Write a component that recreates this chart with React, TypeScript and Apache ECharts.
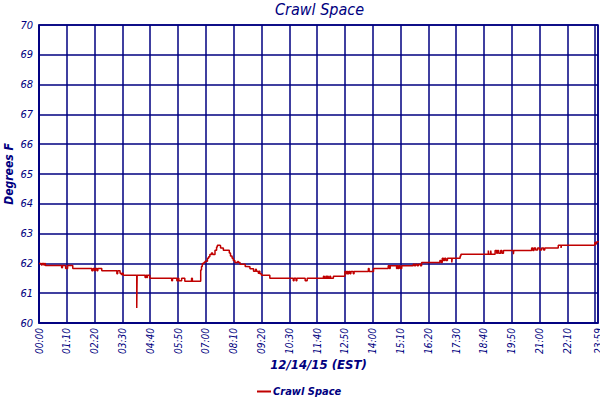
import React, { useRef, useEffect } from 'react';
import * as echarts from 'echarts';

const NAVY = '#000080';
const LINE_RED = '#c00000';
const FONT = "'DejaVu Sans Condensed', 'DejaVu Sans', sans-serif";

// change points of the logged temperature (value holds until the next time)
const times = [
  '00:00', '00:06', '00:08', '00:12', '00:14', '00:16', '00:57', '00:59', '01:07', '01:12',
  '01:25', '02:13', '02:16', '02:20', '02:22', '02:26', '02:28', '02:38', '03:16', '03:18',
  '03:24', '03:27', '03:29', '03:32', '04:06', '04:07', '04:27', '04:29', '04:31', '04:33',
  '04:39', '05:34', '05:36', '05:47', '05:50', '05:52', '05:59', '06:07', '06:24', '06:26',
  '06:47', '06:49', '06:51', '06:55', '06:58', '07:04', '07:07', '07:10', '07:14', '07:17',
  '07:23', '07:27', '07:29', '07:35', '07:37', '07:44', '07:59', '08:02', '08:06', '08:09',
  '08:13', '08:20', '08:22', '08:26', '08:39', '08:43', '08:51', '09:00', '09:05', '09:07',
  '09:12', '09:14', '09:16', '09:20', '09:41', '10:40', '10:42', '10:47', '10:49', '11:10',
  '11:15', '11:56', '11:58', '12:02', '12:04', '12:06', '12:08', '12:12', '12:14', '12:21',
  '12:50', '12:54', '12:56', '12:58', '13:00', '13:03', '13:05', '13:11', '13:13', '13:49',
  '13:51', '14:02', '14:39', '14:42', '14:44', '15:00', '15:02', '15:04', '15:06', '15:09',
  '15:13', '15:42', '15:45', '15:48', '15:52', '15:55', '16:00', '16:03', '16:49', '16:52',
  '16:55', '16:58', '17:01', '17:04', '17:08', '17:19', '17:20', '17:40', '17:42', '18:51',
  '18:52', '18:57', '18:58', '19:08', '19:12', '19:14', '19:17', '19:22', '19:25', '19:29',
  '19:54', '19:55', '20:40', '20:43', '20:46', '20:50', '20:55', '21:00', '21:05', '21:10',
  '21:13', '21:47', '21:54', '21:55', '23:19', '23:21', '23:23', '23:27',
];

const temps = [
  62.0, 61.95, 62.0, 61.95, 62.0, 61.93, 61.85, 61.93, 61.83, 61.93,
  61.83, 61.75, 61.83, 61.75, 61.83, 61.75, 61.83, 61.75, 61.65, 61.75,
  61.67, 61.63, 61.67, 61.6, 60.5, 61.6, 61.53, 61.6, 61.53, 61.6,
  61.5, 61.42, 61.5, 61.42, 61.5, 61.42, 61.5, 61.4, 61.5, 61.4,
  61.78, 61.9, 62.0, 62.03, 62.07, 62.17, 62.22, 62.3, 62.35, 62.3,
  62.44, 62.55, 62.61, 62.59, 62.52, 62.44, 62.35, 62.25, 62.17, 62.1,
  62.03, 62.06, 62.03, 61.97, 61.9, 61.89, 61.82, 61.74, 61.8, 61.74,
  61.67, 61.74, 61.65, 61.6, 61.5, 61.42, 61.5, 61.42, 61.5, 61.42,
  61.5, 61.57, 61.5, 61.57, 61.5, 61.57, 61.5, 61.57, 61.5, 61.57,
  61.73, 61.65, 61.73, 61.65, 61.73, 61.65, 61.73, 61.65, 61.73, 61.83,
  61.73, 61.83, 61.92, 61.83, 61.92, 61.83, 61.92, 61.83, 61.92, 61.83,
  61.92, 61.97, 61.92, 61.97, 61.92, 61.97, 61.92, 62.03, 62.1, 62.03,
  62.17, 62.1, 62.17, 62.1, 62.17, 62.03, 62.17, 62.25, 62.31, 62.43,
  62.31, 62.43, 62.31, 62.43, 62.34, 62.43, 62.34, 62.43, 62.34, 62.43,
  62.31, 62.43, 62.52, 62.43, 62.52, 62.45, 62.52, 62.45, 62.52, 62.45,
  62.52, 62.61, 62.52, 62.61, 62.7, 62.65, 62.72, 62.75,
];

// tick labels along the time axis; the final sample is labelled 23:59
const tickLabels = [
  '00:00', '01:10', '02:20', '03:30', '04:40', '05:50', '07:00', '08:10', '09:20', '10:30',
  '11:40', '12:50', '14:00', '15:10', '16:20', '17:30', '18:40', '19:50', '21:00', '22:10',
  '23:20',
];
const X_MAX = 1407;
const LAST_LABEL = '23:59';

const toMinutes = (t: string) => {
  const [h, m] = t.split(':').map(Number);
  return h * 60 + m;
};

const tickValues = [...tickLabels.map(toMinutes), X_MAX];

const fmtTime = (v: number) => {
  if (v >= X_MAX) return LAST_LABEL;
  const h = Math.floor(v / 60);
  const m = Math.round(v % 60);
  return `${String(h).padStart(2, '0')}:${String(m).padStart(2, '0')}`;
};

export default function App() {
  const chartRef = useRef<HTMLDivElement>(null);

  useEffect(() => {
    if (!chartRef.current) return;
    const chart = echarts.init(chartRef.current, undefined, { renderer: 'svg' });

    const option: any = {
      animation: false,
      backgroundColor: '#ffffff',
      title: {
        text: 'Crawl Space',
        left: 270,
        top: 0,
        padding: [1, 5, 5, 5],
        textStyle: {
          color: NAVY,
          fontFamily: FONT,
          fontStyle: 'italic',
          fontWeight: 'normal',
          fontSize: 16,
        },
      },
      legend: {
        data: [{ name: 'Crawl Space', icon: 'rect' }],
        left: 252,
        top: 381,
        itemWidth: 14,
        itemHeight: 2,
        itemGap: 4,
        textStyle: {
          color: NAVY,
          fontFamily: FONT,
          fontStyle: 'italic',
          fontWeight: 'bold',
          fontSize: 11,
          padding: [0, 0, 0, -3],
        },
      },
      grid: {
        left: 39,
        right: 2,
        top: 25,
        bottom: 77,
        containLabel: false,
        outerBoundsMode: 'none',
        show: true,
        borderColor: NAVY,
        borderWidth: 1.5,
      },
      xAxis: {
        type: 'value',
        min: 0,
        max: X_MAX,
        name: '12/14/15 (EST)',
        nameLocation: 'middle',
        nameGap: 35,
        nameMoveOverlap: false,
        nameTextStyle: {
          color: NAVY,
          fontFamily: FONT,
          fontStyle: 'italic',
          fontWeight: 'bold',
          fontSize: 13,
        },
        axisLine: { show: true, lineStyle: { color: NAVY, width: 1.5 } },
        axisTick: { show: false, customValues: tickValues },
        axisLabel: {
          rotate: 90,
          margin: 5,
          color: NAVY,
          fontFamily: FONT,
          fontStyle: 'italic',
          fontSize: 10,
          hideOverlap: false,
          showMinLabel: true,
          showMaxLabel: true,
          customValues: tickValues,
          formatter: (v: number) => fmtTime(v),
        },
        splitLine: { show: true, lineStyle: { color: NAVY, width: 1.5 } },
      },
      yAxis: {
        type: 'value',
        min: 60,
        max: 70,
        interval: 1,
        name: 'Degrees F',
        nameLocation: 'middle',
        nameGap: 24,
        nameMoveOverlap: false,
        nameTextStyle: {
          color: NAVY,
          fontFamily: FONT,
          fontStyle: 'italic',
          fontWeight: 'bold',
          fontSize: 12,
        },
        axisLine: { show: true, lineStyle: { color: NAVY, width: 1.5 } },
        axisTick: { show: false },
        axisLabel: {
          margin: 6,
          color: NAVY,
          fontFamily: FONT,
          fontStyle: 'italic',
          fontSize: 11,
        },
        splitLine: { show: true, lineStyle: { color: NAVY, width: 1.5 } },
      },
      series: [
        {
          name: 'Crawl Space',
          type: 'line',
          step: 'end',
          symbol: 'none',
          color: LINE_RED,
          lineStyle: { color: LINE_RED, width: 1.5 },
          data: times.map((t, i) => [Math.min(toMinutes(t), X_MAX), temps[i]]),
        },
      ],
    };

    chart.setOption(option);
    return () => chart.dispose();
  }, []);

  return (
    <div
      ref={chartRef}
      style={{ position: 'fixed', left: 0, top: 0, width: 600, height: 400 }}
    />
  );
}
